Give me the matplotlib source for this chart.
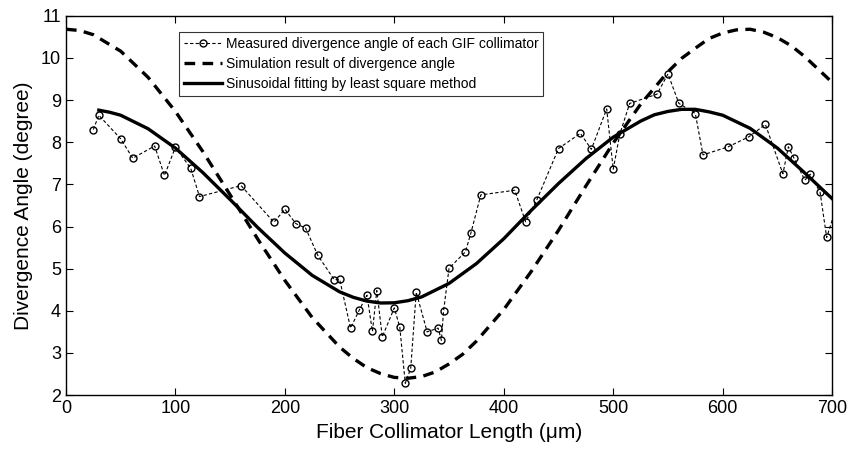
import matplotlib
matplotlib.use("Agg")
from matplotlib import pyplot as plt

plt.rcParams['font.family'] = ['Liberation Sans', 'DejaVu Sans']

# measured divergence angle of each collimator
meas_x = [25, 30, 50, 61, 81, 90, 100, 114, 122, 160, 190, 200, 210, 219,
          230, 245, 250, 260, 268, 275, 280, 284, 289, 300, 305, 310, 315,
          320, 330, 340, 343, 345, 350, 365, 370, 379, 410, 420, 430, 450,
          470, 480, 494, 500, 506, 515, 540, 550, 560, 575, 582, 605, 624,
          639, 655, 660, 665, 675, 680, 689, 695, 705]
meas_y = [8.30, 8.64, 8.08, 7.62, 7.91, 7.21, 7.88, 7.38, 6.71, 6.97, 6.10,
          6.41, 6.07, 5.96, 5.32, 4.74, 4.75, 3.59, 4.02, 4.37, 3.51, 4.48,
          3.38, 4.07, 3.61, 2.28, 2.64, 4.44, 3.50, 3.59, 3.30, 4.00, 5.01,
          5.40, 5.85, 6.75, 6.86, 6.11, 6.62, 7.85, 8.21, 7.83, 8.79, 7.36,
          8.19, 8.92, 9.14, 9.62, 8.92, 8.68, 7.70, 7.89, 8.13, 8.42, 7.25,
          7.89, 7.63, 7.10, 7.24, 6.81, 5.74, 6.55]

# simulation result
sim_x = [0, 12.5, 25, 50, 75, 100, 125, 150, 175, 200, 225, 250, 262.5, 275,
         287.5, 300, 312.5, 325, 337.5, 350, 362.5, 375, 400, 425, 450, 475,
         500, 525, 550, 562.5, 575, 587.5, 600, 612.5, 625, 637.5, 650,
         662.5, 675, 700]
sim_y = [10.68, 10.65, 10.55, 10.16, 9.54, 8.73, 7.78, 6.75, 5.71, 4.72,
         3.84, 3.14, 2.87, 2.65, 2.51, 2.42, 2.40, 2.44, 2.55, 2.74, 2.97,
         3.28, 4.03, 4.93, 5.91, 6.96, 7.98, 8.90, 9.67, 9.99, 10.23, 10.46,
         10.59, 10.665, 10.68, 10.61, 10.48, 10.29, 10.03, 9.42]

# sinusoidal fit
fit_x = [30, 40, 50, 75, 100, 125, 150, 175, 200, 225, 250, 262.5, 275,
         287.5, 300, 312.5, 325, 350, 375, 400, 425, 450, 475, 500, 525,
         537.5, 550, 562.5, 575, 587.5, 600, 625, 650, 675, 700]
fit_y = [8.76, 8.71, 8.64, 8.32, 7.86, 7.28, 6.64, 5.98, 5.37, 4.84, 4.45,
         4.32, 4.23, 4.185, 4.19, 4.24, 4.33, 4.65, 5.12, 5.71, 6.38, 7.02,
         7.61, 8.12, 8.50, 8.65, 8.73, 8.78, 8.78, 8.72, 8.64, 8.33, 7.86,
         7.27, 6.66]

fig = plt.figure(figsize=(8.5, 4.5), dpi=100)
ax = fig.add_axes([0.0776, 0.122, 0.9014, 0.843])

ax.plot(meas_x, meas_y, color='black', lw=0.8, dashes=(3, 2),
        marker='o', markersize=5, mfc='none', mec='black', mew=1.0,
        label='Measured divergence angle of each GIF collimator')
ax.plot(sim_x, sim_y, color='black', lw=2.4, dashes=(3.2, 2.2),
        label='Simulation result of divergence angle')
ax.plot(fit_x, fit_y, color='black', lw=2.4,
        label='Sinusoidal fitting by least square method')

ax.set_xlim(0, 700)
ax.set_ylim(2, 11)
ax.set_xticks(range(0, 701, 100))
ax.set_yticks(range(2, 12))
ax.tick_params(direction='in', top=True, right=True, labelsize=13,
               length=5, width=0.8)
for s in ax.spines.values():
    s.set_linewidth(1.0)

ax.set_xlabel('Fiber Collimator Length (μm)', fontsize=15, labelpad=4)
ax.set_ylabel('Divergence Angle (degree)', fontsize=15, labelpad=6)

leg = ax.legend(loc='upper left', bbox_to_anchor=(0.148, 0.958),
                fontsize=10, frameon=True, fancybox=False,
                edgecolor='black', handlelength=2.7, handletextpad=0.3,
                borderpad=0.35, labelspacing=0.45, borderaxespad=0)
leg.get_frame().set_linewidth(0.8)

fig.savefig('out.png', dpi=100)
